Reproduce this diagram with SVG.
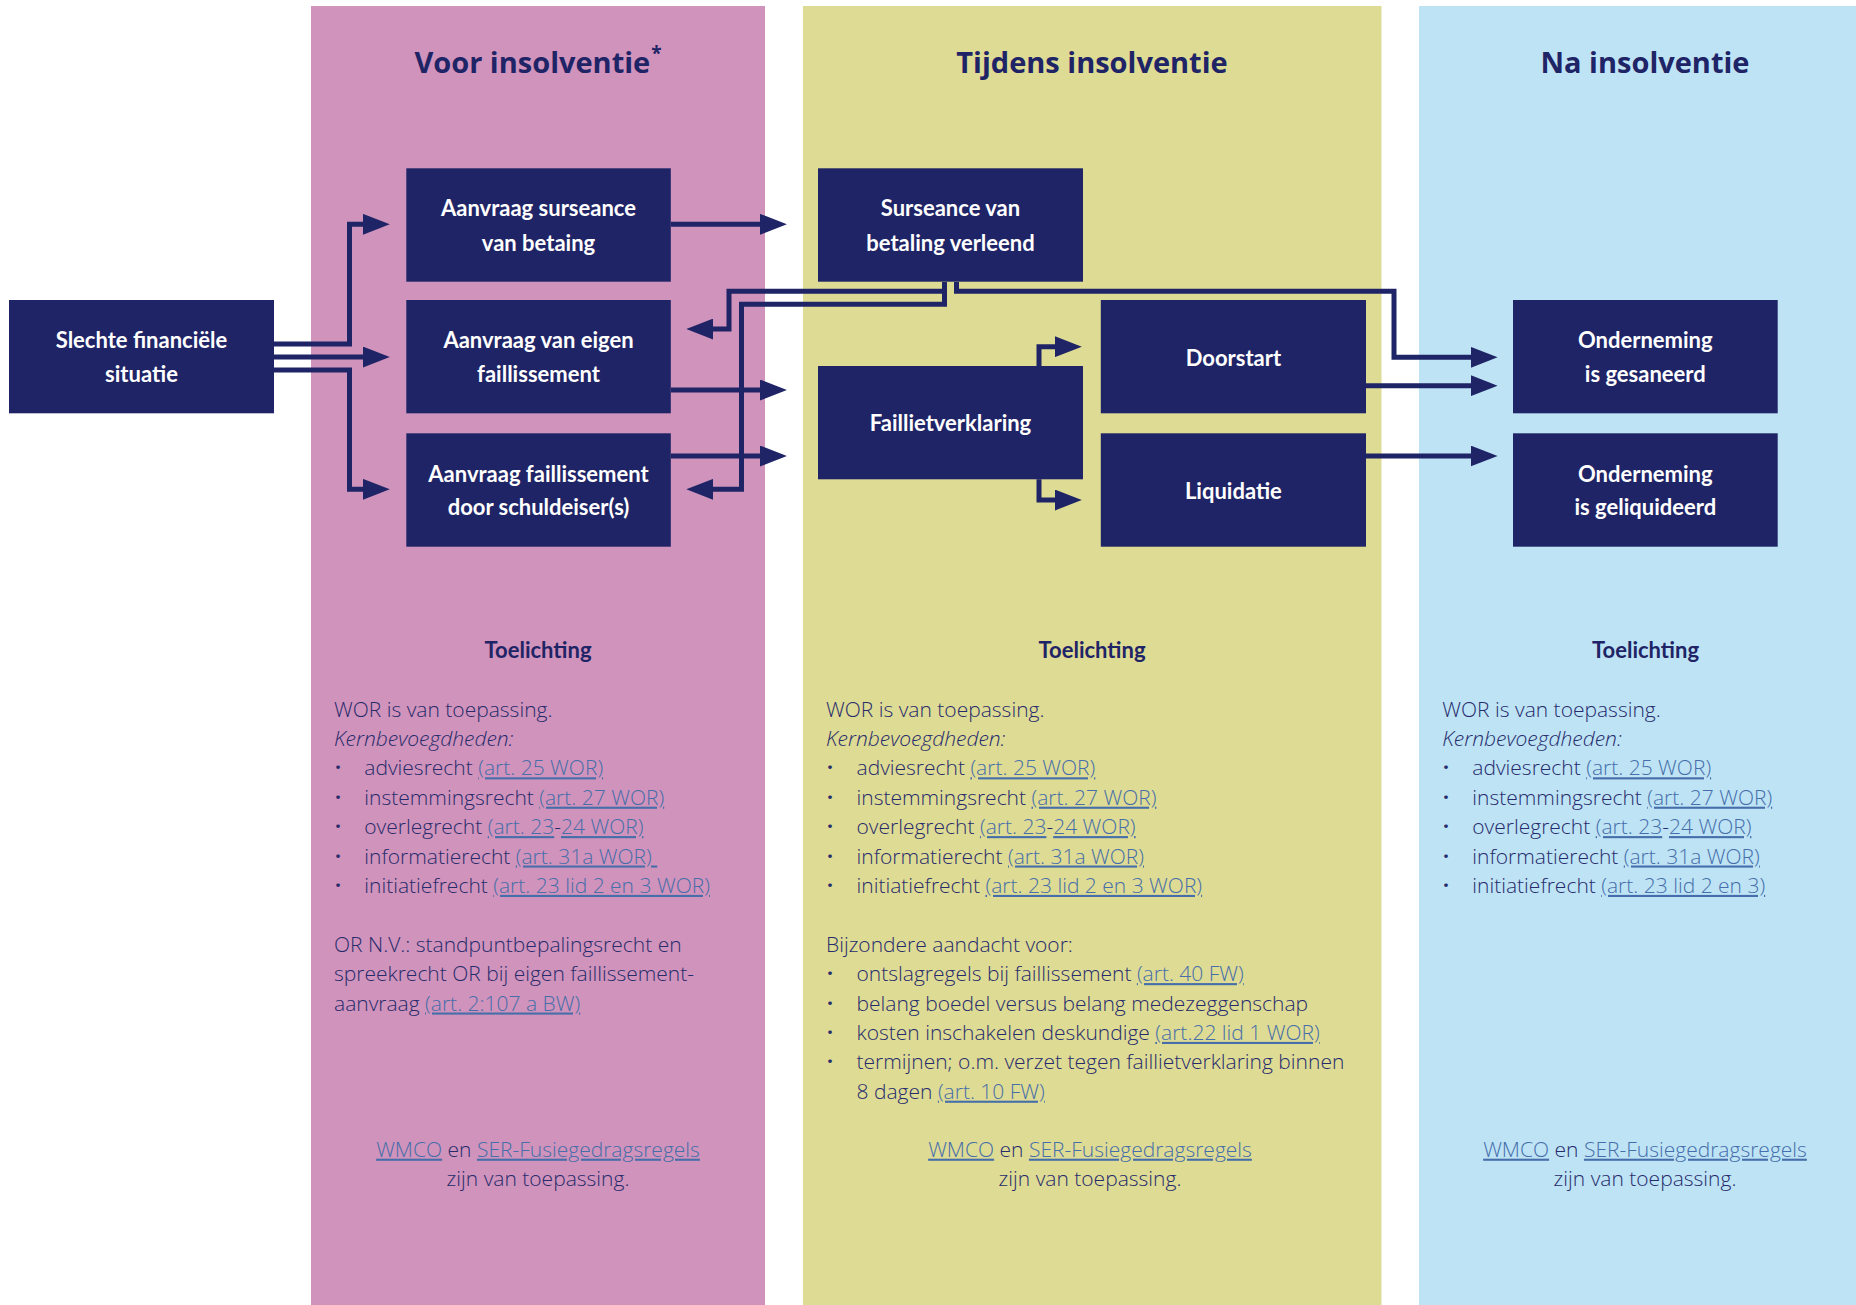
<svg xmlns="http://www.w3.org/2000/svg" width="1856" height="1305" viewBox="0 0 1856 1305">
<style>
.colp{fill:#d093bb}
.coly{fill:#dedb94}
.colb{fill:#bde3f5}
.box{fill:#1f2466}
.bt{font-family:Lato,"Liberation Sans",sans-serif;font-weight:700;font-size:22px;fill:#ffffff;text-anchor:middle}
.title{font-family:"Open Sans","Liberation Sans",sans-serif;font-weight:700;font-size:29px;fill:#1f2466;text-anchor:middle}
.hd{font-family:Lato,"Liberation Sans",sans-serif;font-weight:700;font-size:22px;fill:#1f2466;text-anchor:middle}
.tx{font-family:"Open Sans","Liberation Sans",sans-serif;font-weight:300;font-size:21px;fill:#272b6c}
.it{font-style:italic}
.ln{fill:#466eaa;text-decoration:underline}
.mid{text-anchor:middle}
.bu{font-weight:700;text-anchor:middle}
.conn path{fill:none;stroke:#1f2466;stroke-width:5;stroke-linejoin:miter;marker-end:url(#ah)}
</style>
<defs>
<marker id="ah" markerUnits="userSpaceOnUse" markerWidth="27" markerHeight="21" refX="7" refY="10.5" orient="auto" viewBox="0 0 27 21">
<path d="M0,0 L27,10.5 L0,21 z" fill="#1f2466"/>
</marker>
</defs>
<rect x="0" y="0" width="1856" height="1305" fill="#ffffff"/>

<g id="columns">
<rect class="colp" x="311" y="6" width="454" height="1299"/>
<rect class="coly" x="803" y="6" width="578.5" height="1299"/>
<rect class="colb" x="1419" y="6" width="437" height="1299"/>
</g>

<g id="titles">
<text class="title" x="538" y="73">Voor insolventie<tspan font-size="19" dx="1" dy="-13">*</tspan></text>
<text class="title" x="1092" y="73">Tijdens insolventie</text>
<text class="title" x="1645" y="73">Na insolventie</text>
</g>

<g class="conn" id="connectors">
<path d="M274 344 H349.5 V224.3 H369.8"/>
<path d="M274 357 H369.8"/>
<path d="M274 370 H349.5 V489.3 H369.8"/>
<path d="M670.8 224.3 H766.9"/>
<path d="M670.8 390 H766.9"/>
<path d="M670.8 456 H766.9"/>
<path d="M944.5 282 V291.3 H729 V329 H706.3"/>
<path d="M944.5 282 V304.3 H741.5 V489.3 H706.3"/>
<path d="M956.5 282 V291.3 H1394 V357.3 H1477.6"/>
<path d="M1039 366 V346.7 H1061.8"/>
<path d="M1039 479.3 V500 H1061.8"/>
<path d="M1366 385.7 H1477.6"/>
<path d="M1366 456 H1477.6"/>
</g>

<g id="n-slechte">
<rect class="box" x="9" y="300" width="265" height="113.3"/>
<text class="bt" x="141.5" y="348.3">Slechte financiële</text>
<text class="bt" x="141.5" y="381.7">situatie</text>
</g>
<g id="n-aanvraag-surseance">
<rect class="box" x="406.3" y="168.3" width="264.5" height="113.4"/>
<text class="bt" x="538.5" y="216">Aanvraag surseance</text>
<text class="bt" x="538.5" y="250.7">van betaing</text>
</g>
<g id="n-aanvraag-eigen">
<rect class="box" x="406.3" y="300" width="264.5" height="113.3"/>
<text class="bt" x="538.5" y="348.3">Aanvraag van eigen</text>
<text class="bt" x="538.5" y="381.7">faillissement</text>
</g>
<g id="n-aanvraag-schuldeiser">
<rect class="box" x="406.3" y="433.3" width="264.5" height="113.4"/>
<text class="bt" x="538.5" y="481.5">Aanvraag faillissement</text>
<text class="bt" x="538.5" y="515">door schuldeiser(s)</text>
</g>
<g id="n-surseance-verleend">
<rect class="box" x="818" y="168.3" width="265" height="113.4"/>
<text class="bt" x="950.5" y="216">Surseance van</text>
<text class="bt" x="950.5" y="250.7">betaling verleend</text>
</g>
<g id="n-faillietverklaring">
<rect class="box" x="818" y="366" width="265" height="113.3"/>
<text class="bt" x="950.5" y="431">Faillietverklaring</text>
</g>
<g id="n-doorstart">
<rect class="box" x="1100.8" y="300" width="265.2" height="113.3"/>
<text class="bt" x="1233.4" y="365.5">Doorstart</text>
</g>
<g id="n-liquidatie">
<rect class="box" x="1100.8" y="433.3" width="265.2" height="113.4"/>
<text class="bt" x="1233.4" y="498.5">Liquidatie</text>
</g>
<g id="n-gesaneerd">
<rect class="box" x="1513" y="300" width="264.7" height="113.3"/>
<text class="bt" x="1645.3" y="348.3">Onderneming</text>
<text class="bt" x="1645.3" y="381.7">is gesaneerd</text>
</g>
<g id="n-geliquideerd">
<rect class="box" x="1513" y="433.3" width="264.7" height="113.4"/>
<text class="bt" x="1645.3" y="481.5">Onderneming</text>
<text class="bt" x="1645.3" y="515">is geliquideerd</text>
</g>

<g id="notes-voor">
<text class="hd" x="538" y="658">Toelichting</text>
<text class="tx" x="334" y="716.5">WOR is van toepassing.</text>
<text class="tx it" x="334" y="745.9">Kernbevoegdheden:</text>
<text class="tx bu" x="338" y="775.3">·</text>
<text class="tx" x="364.3" y="775.3">adviesrecht <tspan class="ln">(art. 25 WOR)</tspan></text>
<text class="tx bu" x="338" y="804.7">·</text>
<text class="tx" x="364.3" y="804.7">instemmingsrecht <tspan class="ln">(art. 27 WOR)</tspan></text>
<text class="tx bu" x="338" y="834.1">·</text>
<text class="tx" x="364.3" y="834.1">overlegrecht <tspan class="ln">(art. 23</tspan>-<tspan class="ln">24 WOR)</tspan></text>
<text class="tx bu" x="338" y="863.5">·</text>
<text class="tx" x="364.3" y="863.5">informatierecht <tspan class="ln">(art. 31a WOR)&#160;</tspan></text>
<text class="tx bu" x="338" y="892.9">·</text>
<text class="tx" x="364.3" y="892.9">initiatiefrecht <tspan class="ln">(art. 23 lid 2 en 3 WOR)</tspan></text>
<text class="tx" x="334" y="951.7">OR N.V.: standpuntbepalingsrecht en</text>
<text class="tx" x="334" y="981.1">spreekrecht OR bij eigen faillissement-</text>
<text class="tx" x="334" y="1010.5">aanvraag <tspan class="ln">(art. 2:107 a BW)</tspan></text>
<text class="tx mid" x="538" y="1156.7"><tspan class="ln">WMCO</tspan> en <tspan class="ln">SER-Fusiegedragsregels</tspan></text>
<text class="tx mid" x="538" y="1186">zijn van toepassing.</text>
</g>

<g id="notes-tijdens">
<text class="hd" x="1092" y="658">Toelichting</text>
<text class="tx" x="826" y="716.5">WOR is van toepassing.</text>
<text class="tx it" x="826" y="745.9">Kernbevoegdheden:</text>
<text class="tx bu" x="830" y="775.3">·</text>
<text class="tx" x="856.5" y="775.3">adviesrecht <tspan class="ln">(art. 25 WOR)</tspan></text>
<text class="tx bu" x="830" y="804.7">·</text>
<text class="tx" x="856.5" y="804.7">instemmingsrecht <tspan class="ln">(art. 27 WOR)</tspan></text>
<text class="tx bu" x="830" y="834.1">·</text>
<text class="tx" x="856.5" y="834.1">overlegrecht <tspan class="ln">(art. 23</tspan>-<tspan class="ln">24 WOR)</tspan></text>
<text class="tx bu" x="830" y="863.5">·</text>
<text class="tx" x="856.5" y="863.5">informatierecht <tspan class="ln">(art. 31a WOR)</tspan></text>
<text class="tx bu" x="830" y="892.9">·</text>
<text class="tx" x="856.5" y="892.9">initiatiefrecht <tspan class="ln">(art. 23 lid 2 en 3 WOR)</tspan></text>
<text class="tx" x="826" y="951.7">Bijzondere aandacht voor:</text>
<text class="tx bu" x="830" y="981.1">·</text>
<text class="tx" x="856.5" y="981.1">ontslagregels bij faillissement <tspan class="ln">(art. 40 FW)</tspan></text>
<text class="tx bu" x="830" y="1010.5">·</text>
<text class="tx" x="856.5" y="1010.5">belang boedel versus belang medezeggenschap</text>
<text class="tx bu" x="830" y="1039.9">·</text>
<text class="tx" x="856.5" y="1039.9">kosten inschakelen deskundige <tspan class="ln">(art.22 lid 1 WOR)</tspan></text>
<text class="tx bu" x="830" y="1069.3">·</text>
<text class="tx" x="856.5" y="1069.3">termijnen; o.m. verzet tegen faillietverklaring binnen</text>
<text class="tx" x="856.5" y="1098.7">8 dagen <tspan class="ln">(art. 10 FW)</tspan></text>
<text class="tx mid" x="1090" y="1156.7"><tspan class="ln">WMCO</tspan> en <tspan class="ln">SER-Fusiegedragsregels</tspan></text>
<text class="tx mid" x="1090" y="1186">zijn van toepassing.</text>
</g>

<g id="notes-na">
<text class="hd" x="1645.5" y="658">Toelichting</text>
<text class="tx" x="1442.3" y="716.5">WOR is van toepassing.</text>
<text class="tx it" x="1442.3" y="745.9">Kernbevoegdheden:</text>
<text class="tx bu" x="1446" y="775.3">·</text>
<text class="tx" x="1472.3" y="775.3">adviesrecht <tspan class="ln">(art. 25 WOR)</tspan></text>
<text class="tx bu" x="1446" y="804.7">·</text>
<text class="tx" x="1472.3" y="804.7">instemmingsrecht <tspan class="ln">(art. 27 WOR)</tspan></text>
<text class="tx bu" x="1446" y="834.1">·</text>
<text class="tx" x="1472.3" y="834.1">overlegrecht <tspan class="ln">(art. 23</tspan>-<tspan class="ln">24 WOR)</tspan></text>
<text class="tx bu" x="1446" y="863.5">·</text>
<text class="tx" x="1472.3" y="863.5">informatierecht <tspan class="ln">(art. 31a WOR)</tspan></text>
<text class="tx bu" x="1446" y="892.9">·</text>
<text class="tx" x="1472.3" y="892.9">initiatiefrecht <tspan class="ln">(art. 23 lid 2 en 3)</tspan></text>
<text class="tx mid" x="1645" y="1156.7"><tspan class="ln">WMCO</tspan> en <tspan class="ln">SER-Fusiegedragsregels</tspan></text>
<text class="tx mid" x="1645" y="1186">zijn van toepassing.</text>
</g>
</svg>
